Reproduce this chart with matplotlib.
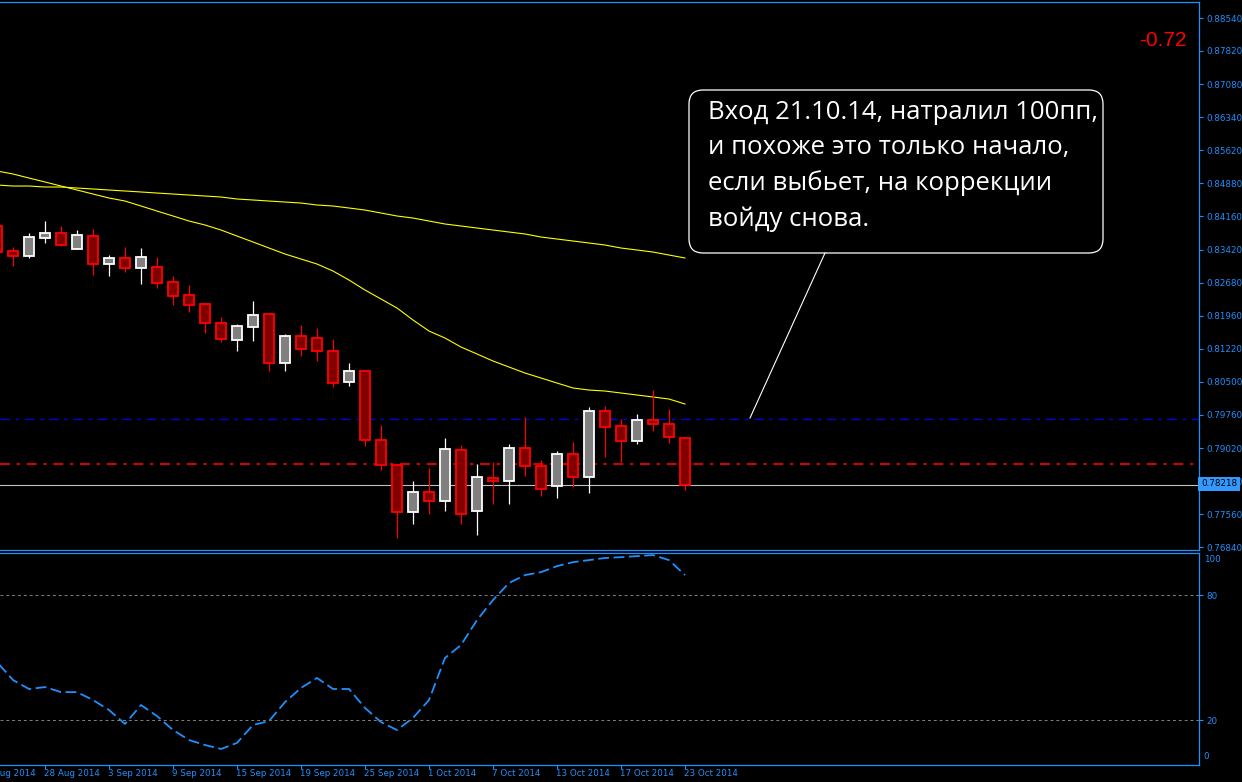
import matplotlib
matplotlib.use("Agg")
import matplotlib.pyplot as plt
from matplotlib.transforms import IdentityTransform, blended_transform_factory
from matplotlib.patches import FancyBboxPatch
from matplotlib.lines import Line2D
import numpy as np

# daily bars, 25 Aug 2014 .. 23 Oct 2014
dates = ["25 Aug 2014", "26 Aug 2014", "27 Aug 2014", "28 Aug 2014", "29 Aug 2014",
         "1 Sep 2014", "2 Sep 2014", "3 Sep 2014", "4 Sep 2014", "5 Sep 2014",
         "8 Sep 2014", "9 Sep 2014", "10 Sep 2014", "11 Sep 2014", "12 Sep 2014",
         "15 Sep 2014", "16 Sep 2014", "17 Sep 2014", "18 Sep 2014", "19 Sep 2014",
         "22 Sep 2014", "23 Sep 2014", "24 Sep 2014", "25 Sep 2014", "26 Sep 2014",
         "29 Sep 2014", "30 Sep 2014", "1 Oct 2014", "2 Oct 2014", "3 Oct 2014",
         "6 Oct 2014", "7 Oct 2014", "8 Oct 2014", "9 Oct 2014", "10 Oct 2014",
         "13 Oct 2014", "14 Oct 2014", "15 Oct 2014", "16 Oct 2014", "17 Oct 2014",
         "20 Oct 2014", "21 Oct 2014", "22 Oct 2014", "23 Oct 2014"]
prev_label = "22 Aug 2014"

o = [0.83940, 0.83387, 0.83276, 0.83674, 0.83785, 0.83431, 0.83718, 0.83099, 0.83232, 0.83011,
     0.83033, 0.82701, 0.82414, 0.82214, 0.81794, 0.81418, 0.81706, 0.81993, 0.80910, 0.81507,
     0.81462, 0.81175, 0.80489, 0.80733, 0.79207, 0.78654, 0.77614, 0.78056, 0.77857, 0.78985,
     0.77636, 0.78366, 0.78300, 0.79030, 0.78631, 0.78189, 0.78897, 0.78388, 0.79848, 0.79516,
     0.79184, 0.79649, 0.79560, 0.79251]
h = [0.83984, 0.83475, 0.83785, 0.84050, 0.83940, 0.83851, 0.83873, 0.83298, 0.83475, 0.83453,
     0.83254, 0.82834, 0.82635, 0.82214, 0.81927, 0.81772, 0.82281, 0.82015, 0.81551, 0.81750,
     0.81684, 0.81440, 0.80910, 0.80755, 0.79538, 0.78676, 0.78300, 0.78587, 0.79251, 0.79096,
     0.78676, 0.78720, 0.79118, 0.79715, 0.78764, 0.78963, 0.79162, 0.79936, 0.79958, 0.79671,
     0.79782, 0.80312, 0.79892, 0.79251]
l = [0.83320, 0.83055, 0.83232, 0.83564, 0.83497, 0.83431, 0.82856, 0.82834, 0.82922, 0.82657,
     0.82568, 0.82192, 0.82037, 0.81573, 0.81374, 0.81175, 0.81396, 0.80733, 0.80733, 0.81064,
     0.80954, 0.80379, 0.80401, 0.79074, 0.78543, 0.77039, 0.77349, 0.77570, 0.77636, 0.77349,
     0.77105, 0.77791, 0.77791, 0.78410, 0.77968, 0.77924, 0.78167, 0.78034, 0.78830, 0.78720,
     0.79118, 0.79406, 0.79140, 0.78101]
c = [0.83364, 0.83276, 0.83696, 0.83785, 0.83519, 0.83741, 0.83099, 0.83232, 0.83011, 0.83254,
     0.82679, 0.82391, 0.82192, 0.81794, 0.81440, 0.81728, 0.81971, 0.80910, 0.81507, 0.81219,
     0.81175, 0.80467, 0.80733, 0.79207, 0.78654, 0.77614, 0.78056, 0.77857, 0.79008, 0.77570,
     0.78388, 0.78300, 0.79030, 0.78631, 0.78123, 0.78897, 0.78388, 0.79848, 0.79494, 0.79184,
     0.79649, 0.79560, 0.79273, 0.78218]

ma_fast = [0.85156, 0.85090, 0.85001, 0.84913, 0.84824, 0.84736, 0.84647, 0.84559, 0.84492, 0.84382,
           0.84271, 0.84161, 0.84050, 0.83962, 0.83851, 0.83718, 0.83586, 0.83453, 0.83320, 0.83210,
           0.83099, 0.82944, 0.82745, 0.82524, 0.82325, 0.82126, 0.81861, 0.81617, 0.81462, 0.81263,
           0.81109, 0.80954, 0.80821, 0.80688, 0.80578, 0.80467, 0.80357, 0.80312, 0.80290, 0.80246,
           0.80202, 0.80158, 0.80113, 0.80003]
ma_slow = [0.84846, 0.84824, 0.84824, 0.84802, 0.84802, 0.84780, 0.84758, 0.84736, 0.84714, 0.84692,
           0.84669, 0.84647, 0.84625, 0.84603, 0.84581, 0.84537, 0.84515, 0.84492, 0.84470, 0.84448,
           0.84404, 0.84382, 0.84338, 0.84293, 0.84227, 0.84161, 0.84116, 0.84050, 0.83984, 0.83940,
           0.83895, 0.83851, 0.83807, 0.83763, 0.83696, 0.83652, 0.83608, 0.83564, 0.83519, 0.83453,
           0.83409, 0.83364, 0.83298, 0.83232]

osc = [47.8, 39.2, 34.9, 35.8, 33.4, 33.4, 29.6, 24.8, 18.1, 27.2,
       21.9, 15.2, 10.4, 8.0, 6.1, 9.0, 17.6, 19.5, 28.6, 35.4,
       40.2, 34.9, 34.9, 25.8, 19.0, 15.2, 21.0, 29.6, 49.8, 56.0,
       68.0, 77.6, 85.8, 89.6, 91.0, 93.9, 95.8, 96.8, 97.8, 98.2,
       98.7, 99.2, 96.8, 89.6]

price_ticks = [0.88540, 0.87820, 0.87080, 0.86340, 0.85620, 0.84880, 0.84160, 0.83420, 0.82680,
               0.81960, 0.81220, 0.80500, 0.79760, 0.79020, 0.78300, 0.77560, 0.76840]
entry_level = 0.79671
target_level = 0.78676
bid = 0.78218
profit = "-0.72"
note = "Вход 21.10.14, натралил 100пп,\nи похоже это только начало,\nесли выбьет, на коррекции\nвойду снова."

BLUE = "#1e90ff"
W, H = 1242, 782
FS = 6.3

fig = plt.figure(figsize=(W / 100, H / 100), dpi=100, facecolor="black")
ax = fig.add_axes([0, 1 - 550 / H, 1199 / W, 548 / H], facecolor="black")
ax2 = fig.add_axes([0, 1 - 765 / H, 1199 / W, 212 / H], facecolor="black", sharex=ax)

x = np.arange(len(c)) - 1
o, h, l, c = map(np.array, (o, h, l, c))
up = c >= o

ax.vlines(x[up], l[up], h[up], color="white", lw=0.9, zorder=3)
ax.vlines(x[~up], l[~up], h[~up], color="red", lw=0.9, zorder=3)
body_lo = np.minimum(o, c)
body_h = np.maximum(np.abs(c - o), 0.00004)
ax.bar(x[up], body_h[up], 0.6, body_lo[up], color="#808080", edgecolor="white", lw=1.3, zorder=4)
ax.bar(x[~up], body_h[~up], 0.6, body_lo[~up], color="#800000", edgecolor="red", lw=1.3, zorder=4)

ax.plot(x, ma_fast, color="yellow", lw=0.8, zorder=2)
ax.plot(x, ma_slow, color="yellow", lw=0.8, zorder=2)

ax.axhline(entry_level, color="#0000e0", lw=1.0, ls=(0, (7, 4, 2.5, 4)), zorder=1)
ax.axhline(target_level, color="red", lw=1.2, ls=(0, (6, 4, 2, 4)), zorder=1)
ax.axhline(bid, color="#c0c0c0", lw=0.8, zorder=1)

ax.set_xlim(-0.8125, 74.125)
ax.set_ylim(0.76774, 0.88894)

for a in (ax, ax2):
    for s in a.spines.values():
        s.set_color(BLUE)
        s.set_linewidth(0.9)
    a.spines["left"].set_visible(False)
    a.yaxis.tick_right()
    a.tick_params(axis="y", colors=BLUE, labelsize=FS, length=3, width=0.8, pad=2)
    a.tick_params(axis="x", bottom=False, labelbottom=False)

ax.set_yticks(price_ticks)
ax.set_yticklabels([f"{v:.5f}" for v in price_ticks])

# bid price label on the scale
fig.text(1201 / W, 1 - 484 / H, f"{bid:.5f}", color="black", fontsize=FS, va="center", ha="left",
         bbox=dict(boxstyle="square,pad=0.3", fc="#3399ff", ec="none"), zorder=10)

# oscillator pane
ax2.plot(x, osc, color=BLUE, lw=1.3, ls=(0, (6, 2.5)))
for lev in (80, 20):
    ax2.axhline(lev, color="#808080", lw=0.7, ls=(0, (3, 3)))
ax2.set_ylim(-1.6, 100.2)
ax2.set_yticks([80, 20])
ax2.set_yticklabels(["80", "20"])
ax2.text(1.004, 97.2, "100", color=BLUE, fontsize=FS, va="center", ha="left",
         transform=blended_transform_factory(ax2.transAxes, ax2.transData))
ax2.text(1.004, 2.5, "0", color=BLUE, fontsize=FS, va="center", ha="left",
         transform=blended_transform_factory(ax2.transAxes, ax2.transData))

# date scale
tr = blended_transform_factory(ax2.transData, ax2.transAxes)
tick_x = [-2] + list(x[3::4])
tick_lab = [prev_label] + dates[3::4]
for tx, lab in zip(tick_x, tick_lab):
    ax2.plot([tx, tx], [0, -0.015], color=BLUE, lw=0.8, transform=tr, clip_on=False)
    ax2.text(tx - 0.05, -0.04, lab, color=BLUE, fontsize=FS, ha="left", va="center",
             transform=tr, clip_on=False)

fig.text(1187 / W, 1 - 40 / H, profit, color="red", fontsize=15, family="Liberation Sans",
         ha="right", va="center")

# comment box with pointer
idt = IdentityTransform()
fig.add_artist(Line2D([825, 750], [H - 253, H - 418], color="white", lw=0.8, transform=idt))
fig.add_artist(FancyBboxPatch((689, H - 253), 414, 163, boxstyle="round,pad=0,rounding_size=14",
                              fc="black", ec="white", lw=0.9, transform=idt))
fig.text(708 / W, 1 - 100 / H, note, color="white", fontsize=18.5, family="Open Sans",
         ha="left", va="top", linespacing=1.52)

fig.savefig("out.png", dpi=100, facecolor="black")
